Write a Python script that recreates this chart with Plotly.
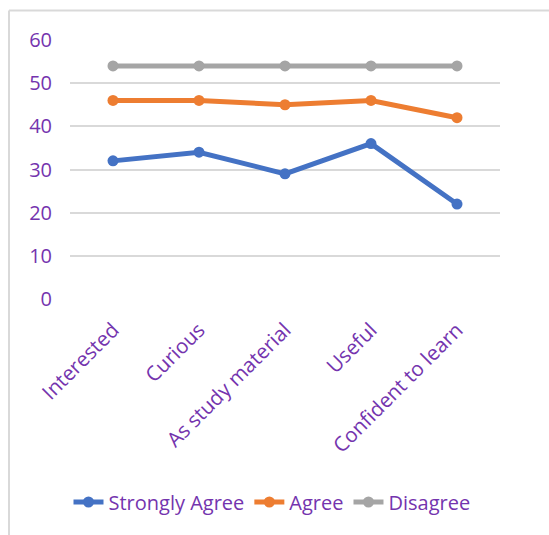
import plotly.graph_objects as go

categories = ["Interested", "Curious", "As study material", "Useful", "Confident to learn"]
strongly_agree = [32, 34, 29, 36, 22]
agree = [46, 46, 45, 46, 42]
disagree = [54, 54, 54, 54, 54]

PURPLE = "#7434AE"
FONT = "Open Sans"

fig = go.Figure()
for name, vals, col in [("Strongly Agree", strongly_agree, "#4472C4"),
                        ("Agree", agree, "#ED7D31"),
                        ("Disagree", disagree, "#A5A5A5")]:
    fig.add_trace(go.Scatter(x=categories, y=vals, name=name, mode="lines+markers",
                             line=dict(color=col, width=5),
                             marker=dict(color=col, size=11)))

L, R, T, B = 70, 49, 40, 236
W, H = 549, 535
pw, ph = W - L - R, H - T - B

def px(x):
    return (x - L) / pw

def py(y):
    return (H - B - y) / ph

fig.update_layout(
    width=W, height=H,
    margin=dict(l=L, r=R, t=T, b=B),
    paper_bgcolor="white", plot_bgcolor="white",
    font=dict(family=FONT, color=PURPLE, size=20),
    xaxis=dict(type="category", range=[-0.5, 4.5], tickangle=-45, showgrid=False,
               showline=False, ticks="", ticklabelstandoff=14,
               tickfont=dict(size=20.5, color=PURPLE)),
    yaxis=dict(range=[0, 60], dtick=10, showgrid=True, gridcolor="#D9D9D9", gridwidth=1.5,
               zeroline=False, showline=False, ticks="", ticklabelstandoff=17,
               tickfont=dict(size=20, color=PURPLE)),
    legend=dict(orientation="h", x=px(272), xanchor="center", y=py(502), yanchor="middle",
                font=dict(size=20, color=PURPLE), itemwidth=30, tracegroupgap=0),
    showlegend=True,
    shapes=[
        dict(type="line", xref="paper", yref="paper", x0=px(9), x1=px(9), y0=py(10.5), y1=py(540),
             line=dict(color="#D9D9D9", width=2)),
        dict(type="line", xref="paper", yref="paper", x0=px(9), x1=px(560), y0=py(10.5), y1=py(10.5),
             line=dict(color="#D9D9D9", width=2)),
    ],
)

fig.write_html("out.html")
